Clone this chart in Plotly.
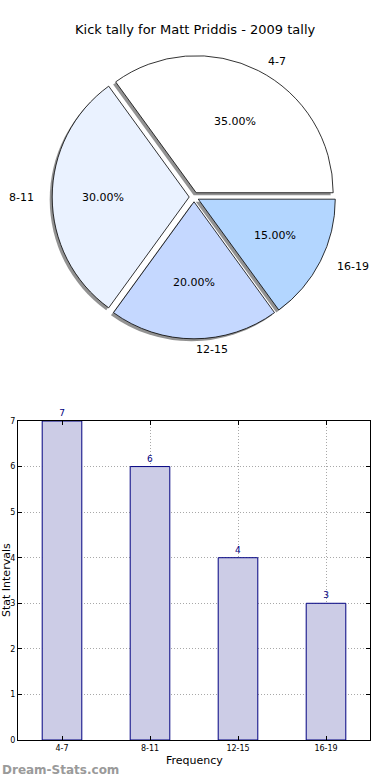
import math
import plotly.graph_objects as go

categories = ["4-7", "8-11", "12-15", "16-19"]
counts = [7, 6, 4, 3]
pie_colors = ["#FFFFFF", "#EAF2FF", "#C5D8FF", "#B3D6FF"]

W, H = 390, 780
FONT = "DejaVu Sans"

def px_x(x):
    return x / W

def px_y(y):
    return 1 - y / H

# pie geometry (pixels)
cx, cy, R, pull = 194, 197, 137, 0.035
half = R * (1 + pull)
dom_x = [px_x(cx - half), px_x(cx + half)]
dom_y = [px_y(cy + half), px_y(cy - half)]
sh = 2.5
shadow_x = [px_x(cx - half - sh), px_x(cx + half - sh)]
shadow_y = [px_y(cy + half + sh), px_y(cy - half + sh)]

total = sum(counts)
# first slice (4-7) starts at 3 o'clock and runs counterclockwise
rotation = 90 - 360 * counts[0] / total

fig = go.Figure()

common = dict(labels=categories, values=counts, sort=False, direction="counterclockwise",
              rotation=rotation, pull=[pull] * 4, hoverinfo="skip", automargin=False,
              textinfo="none", showlegend=False)

# shadow
fig.add_trace(go.Pie(**common, domain=dict(x=shadow_x, y=shadow_y),
                     marker=dict(colors=["rgba(110,110,110,0.75)"] * 4, line=dict(width=0))))
# main
fig.add_trace(go.Pie(**common, domain=dict(x=dom_x, y=dom_y),
                     marker=dict(colors=pie_colors, line=dict(color="black", width=0.8))))

# slice labels (outside) and percentages (inside), placed at each slice's mid angle
annotations = []
rx, ry = 143, 134
lrx, lry = 139, 134
shift = pull * R
start = 0.0
for lab, v in zip(categories, counts):
    frac = v / total
    mid = math.radians(360 * (start + frac / 2))
    start += frac
    c, s = math.cos(mid), math.sin(mid)
    # percentage at 0.6 radius
    px = cx + (0.6 * rx + shift) * c
    py = cy - (0.6 * ry + shift) * s
    annotations.append(dict(text=f"{100 * frac:.2f}%", x=px_x(px), y=px_y(py),
                            xref="paper", yref="paper", showarrow=False,
                            font=dict(size=11, family=FONT), xanchor="center", yanchor="middle"))
    # label at 1.1 radius
    lx = cx + (1.1 * lrx + shift) * c
    ly = cy - (1.1 * lry + shift) * s
    annotations.append(dict(text=lab, x=px_x(lx), y=px_y(ly),
                            xref="paper", yref="paper", showarrow=False,
                            font=dict(size=11, family=FONT),
                            xanchor="left" if c > -1e-6 else "right", yanchor="middle"))

# bar chart
fig.add_trace(go.Bar(x=categories, y=counts, width=0.45,
                     marker=dict(color="#CCCCE6", line=dict(color="#000080", width=1)),
                     text=[str(c) for c in counts], textposition="outside",
                     textfont=dict(family=FONT, size=9, color="#000080"),
                     cliponaxis=False, showlegend=False, hoverinfo="skip"))

grid = dict(showgrid=True, gridcolor="#A8A8A8", griddash="1px,2px", gridwidth=1)

annotations += [
    dict(text="Kick tally for Matt Priddis - 2009 tally", x=px_x(195), y=px_y(30),
         xref="paper", yref="paper", showarrow=False, font=dict(size=13, family=FONT),
         xanchor="center", yanchor="middle"),
    dict(text="Frequency", x=px_x(194), y=px_y(760), xref="paper", yref="paper",
         showarrow=False, font=dict(size=11, family=FONT), xanchor="center", yanchor="middle"),
    dict(text="Stat Intervals", x=px_x(6), y=px_y(580), xref="paper", yref="paper",
         showarrow=False, textangle=-90, font=dict(size=11, family=FONT),
         xanchor="center", yanchor="middle"),
    dict(text="<b>Dream-Stats.com</b>", x=0, y=px_y(770), xref="paper", yref="paper",
         showarrow=False, font=dict(size=12, family=FONT, color="#9A9A9A"),
         xanchor="left", yanchor="middle"),
]

fig.update_layout(
    width=W, height=H,
    margin=dict(l=0, r=0, t=0, b=0, pad=0),
    paper_bgcolor="white", plot_bgcolor="white",
    font=dict(family=FONT, color="black"),
    xaxis=dict(domain=[px_x(18), px_x(370)], anchor="y", range=[-0.5, 3.5], automargin=False,
               showline=True, mirror="ticks", linecolor="black", linewidth=1,
               ticks="inside", ticklen=4, tickcolor="black",
               tickfont=dict(size=8, family=FONT), zeroline=False, **grid),
    yaxis=dict(domain=[px_y(740), px_y(421)], anchor="x", range=[0, 7], dtick=1, automargin=False,
               showline=True, mirror="ticks", linecolor="black", linewidth=1,
               ticks="inside", ticklen=4, tickcolor="black",
               tickfont=dict(size=8, family=FONT), zeroline=False, **grid),
    annotations=annotations,
)

fig.write_html("out.html", config={"displayModeBar": False},
               post_script="document.body.style.margin='0px';")
